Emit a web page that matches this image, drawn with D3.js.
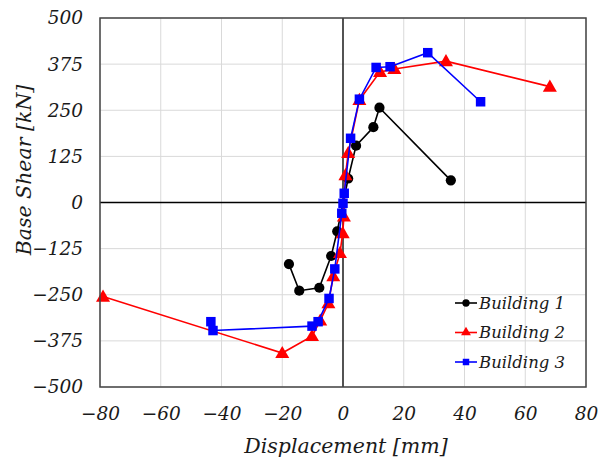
<!DOCTYPE html>
<html>
<head>
<meta charset="utf-8">
<script src="https://cdn.jsdelivr.net/npm/d3@7"></script>
<style>
  html, body { margin: 0; padding: 0; background: #fff; }
  svg text { font-family: "DejaVu Serif", "Liberation Serif", serif; font-style: italic; fill: #1a1a1a; }
</style>
</head>
<body>
<svg id="chart" width="601" height="464"></svg>
<script>
// Pushover curves: displacement [mm] vs base shear [kN]
const building1 = [
  [-17.8, -167], [-14.4, -239], [-7.8, -231], [-3.9, -145], [-1.9, -78],
  [1.7, 65], [4.3, 154], [10.0, 204], [12.0, 257], [35.5, 60]
];
const building2 = [
  [-79, -255], [-20, -408], [-10.2, -362], [-7.5, -320], [-4.8, -273],
  [-3.2, -200], [-1.0, -137], [-0.1, -83], [0.3, -38], [0.8, 74],
  [1.7, 134], [5.4, 278], [12.2, 354], [16.9, 362], [33.9, 383], [68.1, 314]
];
const building3 = [
  [-43.5, -323], [-42.8, -347], [-10.2, -335], [-8.2, -323], [-4.6, -260],
  [-2.7, -180], [-0.4, -29], [0.0, -2], [0.4, 25], [2.5, 174],
  [5.4, 280], [10.9, 366], [15.5, 368], [27.9, 406], [45.3, 273]
];
const seriesNames = ["Building 1", "Building 2", "Building 3"];
const seriesColors = ["#000000", "#ff0000", "#0000ff"];
const seriesSymbols = [d3.symbolCircle, d3.symbolTriangle, d3.symbolSquare];
const xTicks = [-80, -60, -40, -20, 0, 20, 40, 60, 80];
const yTicks = [-500, -375, -250, -125, 0, 125, 250, 375, 500];

const series = [building1, building2, building3];

const svg = d3.select("#chart");
const plotLeft = 100, plotRight = 586, plotTop = 18, plotBottom = 387;

const x = d3.scaleLinear().domain([-80, 80]).range([plotLeft, plotRight]);
const y = d3.scaleLinear().domain([-500, 500]).range([plotBottom, plotTop]);

// gridlines
const grid = svg.append("g");
grid.selectAll("line.gx").data(xTicks).join("line")
  .attr("x1", d => x(d)).attr("x2", d => x(d))
  .attr("y1", plotTop).attr("y2", plotBottom)
  .attr("stroke", "#d9d9d9").attr("stroke-width", 1);
grid.selectAll("line.gy").data(yTicks).join("line")
  .attr("x1", plotLeft).attr("x2", plotRight)
  .attr("y1", d => y(d)).attr("y2", d => y(d))
  .attr("stroke", "#d9d9d9").attr("stroke-width", 1);

// zero axes
svg.append("line").attr("x1", x(0)).attr("x2", x(0)).attr("y1", plotTop).attr("y2", plotBottom)
  .attr("stroke", "#000").attr("stroke-width", 1.3);
svg.append("line").attr("x1", plotLeft).attr("x2", plotRight).attr("y1", y(0)).attr("y2", y(0))
  .attr("stroke", "#000").attr("stroke-width", 1.3);

// tick labels via d3 axes (no tick lines)
const xAxis = svg.append("g").attr("transform", `translate(0,${plotBottom})`)
  .call(d3.axisBottom(x).tickValues(xTicks).tickSize(0).tickPadding(20).tickFormat(d3.format("d")));
const yAxis = svg.append("g").attr("transform", `translate(${plotLeft},0)`)
  .call(d3.axisLeft(y).tickValues(yTicks).tickSize(0).tickPadding(17).tickFormat(d3.format("d")));
[xAxis, yAxis].forEach(a => {
  a.select(".domain").remove();
  a.attr("font-family", null).attr("font-size", null);
  a.selectAll("text").style("font-size", "18.5px").attr("fill", "#1a1a1a");
});

// series
const line = d3.line().x(d => x(d[0])).y(d => y(d[1]));
const symSizes = [82, 85, 90];
series.forEach((data, i) => {
  const g = svg.append("g");
  g.append("path").datum(data).attr("d", line)
    .attr("fill", "none").attr("stroke", seriesColors[i]).attr("stroke-width", 1.6);
  g.selectAll("path.m").data(data).join("path")
    .attr("class", "m")
    .attr("transform", d => `translate(${x(d[0])},${y(d[1]) + (i === 1 ? 1 : 0)})`)
    .attr("d", d3.symbol().type(seriesSymbols[i]).size(symSizes[i]))
    .attr("fill", seriesColors[i]);
});

// plot frame
svg.append("rect").attr("x", plotLeft).attr("y", plotTop)
  .attr("width", plotRight - plotLeft).attr("height", plotBottom - plotTop)
  .attr("fill", "none").attr("stroke", "#444").attr("stroke-width", 1.5);

// legend
const legend = svg.append("g");
seriesNames.forEach((name, i) => {
  const ly = 303 + i * 29.5;
  legend.append("line").attr("x1", 455).attr("x2", 477).attr("y1", ly).attr("y2", ly)
    .attr("stroke", seriesColors[i]).attr("stroke-width", 1.6);
  legend.append("path").attr("transform", `translate(466,${ly})`)
    .attr("d", d3.symbol().type(seriesSymbols[i]).size(42)).attr("fill", seriesColors[i]);
  legend.append("text").attr("x", 479).attr("y", ly).attr("dy", "0.35em")
    .style("font-size", "16.5px").text(name);
});

// axis titles
svg.append("text").attr("x", 346).attr("y", 446).attr("text-anchor", "middle")
  .attr("dy", "0.35em").style("font-size", "20.5px").text("Displacement [mm]");
svg.append("text").attr("transform", "translate(24,170) rotate(-90)").attr("text-anchor", "middle")
  .attr("dy", "0.35em").style("font-size", "20.5px").text("Base Shear [kN]");
</script>
</body>
</html>
